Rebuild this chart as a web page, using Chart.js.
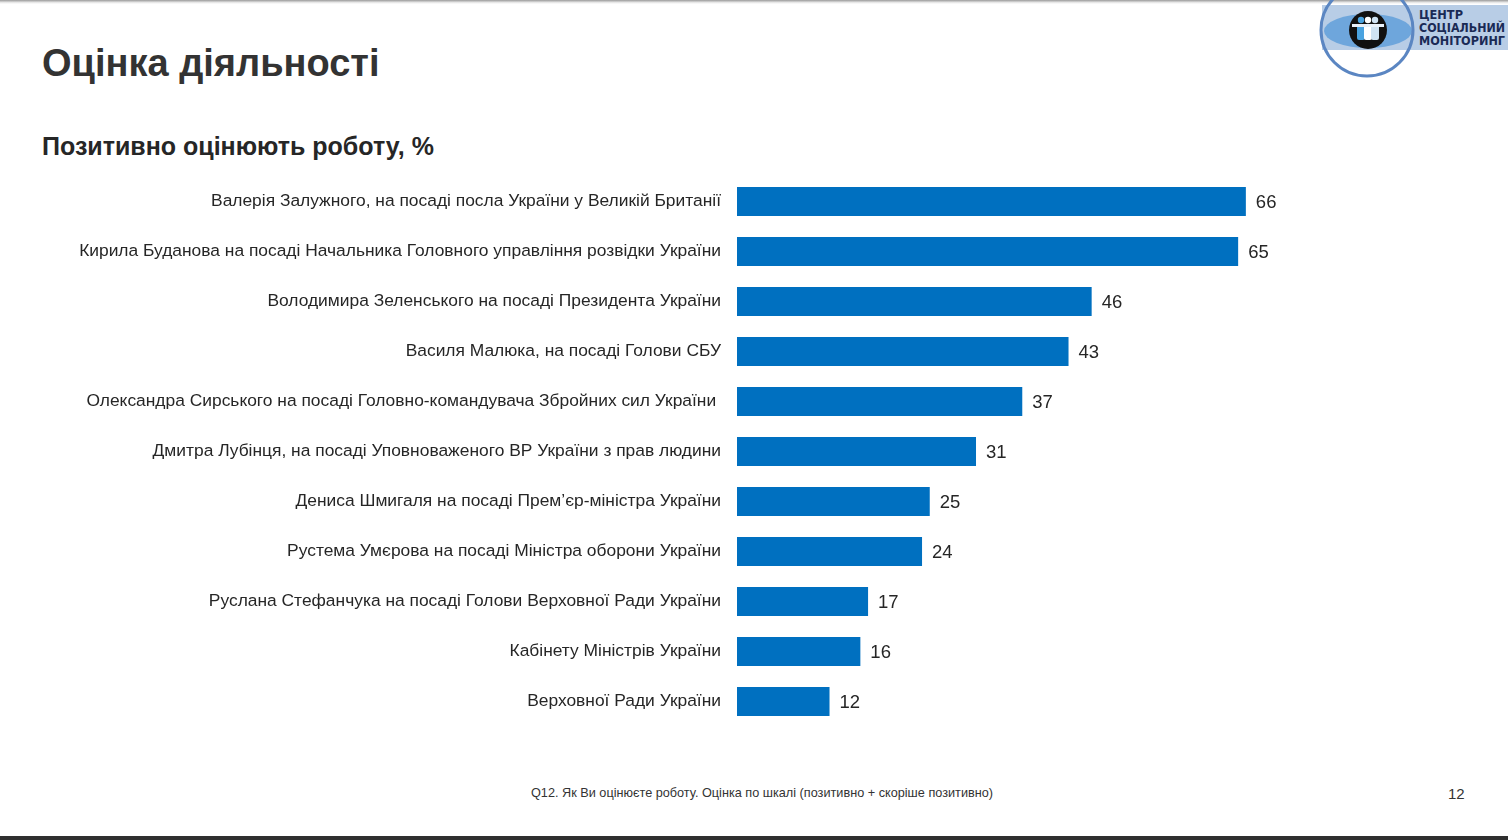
<!DOCTYPE html>
<html lang="uk">
<head>
<meta charset="utf-8">
<title>Оцінка діяльності</title>
<script src="https://cdn.jsdelivr.net/npm/chart.js@4.4.0/dist/chart.umd.min.js"></script>
<style>
	html, body {
		margin: 0;
		padding: 0;
		width: 1508px;
		height: 840px;
		overflow: hidden;
		background: #fff;
		font-family: "Liberation Sans", Arial, sans-serif;
	}
	.topline {
		position: absolute; left: 0; top: 0; width: 1508px; height: 4px;
		background: linear-gradient(#9a9a9a, #e6e6e6 60%, #fff);
	}
	.bottomline {
		position: absolute; left: 0; top: 836px; width: 1508px; height: 4px;
		background: #2f2f2f;
	}
	h1 {
		position: absolute; left: 42px; top: 42px; margin: 0;
		font-size: 38px; font-weight: bold; color: #333;
	}
	h2 {
		position: absolute; left: 42px; top: 132px; margin: 0;
		font-size: 25px; font-weight: bold; color: #262626;
	}
	/* chart box is taller than the bar area: Chart.js adds label padding top and bottom */
	.chartbox {
		position: absolute; left: 0; top: 150px; width: 1508px; height: 603px;
	}
	.note {
		position: absolute; left: 0; width: 1524px; top: 786px; text-align: center;
		font-size: 12.7px; color: #333;
	}
	.page {
		position: absolute; left: 1448px; top: 785px; font-size: 15px; color: #333;
	}
	.logo { position: absolute; left: 1300px; top: 0; }
</style>
</head>
<body>
<div class="topline"></div>
<h1>Оцінка діяльності</h1>
<h2>Позитивно оцінюють роботу, %</h2>

<svg class="logo" width="208" height="90" viewBox="0 0 208 90">
	<rect x="22" y="5" width="186" height="45" fill="#b8cde6"/>
	<ellipse cx="68" cy="31" rx="44" ry="17" fill="#6ea6dc"/>
	<circle cx="67" cy="30" r="46" fill="none" stroke="#5b86c2" stroke-width="3"/>
	<circle cx="68" cy="30" r="19" fill="#111"/>
	<g fill="#4aa3e0">
		<circle cx="61" cy="20" r="3.2"/>
		<rect x="57" y="24" width="8" height="16" rx="2"/>
	</g>
	<g fill="#ffffff">
		<circle cx="68" cy="20" r="3.2"/>
		<rect x="64" y="24" width="8" height="16" rx="2"/>
	</g>
	<g fill="#cfe3f3">
		<circle cx="75" cy="20" r="3.2"/>
		<rect x="71" y="24" width="8" height="16" rx="2"/>
	</g>
	<rect x="52" y="24" width="32" height="3" fill="#e8f1fa"/>
	<g font-family="'DejaVu Sans', sans-serif" font-weight="bold" font-size="11.5" fill="#1a2a55">
		<text x="119" y="19" textLength="44" lengthAdjust="spacingAndGlyphs">ЦЕНТР</text>
		<text x="119" y="32" textLength="86" lengthAdjust="spacingAndGlyphs">СОЦІАЛЬНИЙ</text>
		<text x="119" y="45" textLength="86" lengthAdjust="spacingAndGlyphs">МОНІТОРИНГ</text>
	</g>
</svg>

<div class="chartbox"><canvas id="ratingChart"></canvas></div>

<div class="note">Q12. Як Ви оцінюєте роботу. Оцінка по шкалі (позитивно + скоріше позитивно)</div>
<div class="page">12</div>
<div class="bottomline"></div>

<script>
// categories (top to bottom) and values, %
const officials = [
	"Валерія Залужного, на посаді посла України у Великій Британії",
	"Кирила Буданова на посаді Начальника Головного управління розвідки України",
	"Володимира Зеленського на посаді Президента України",
	"Василя Малюка, на посаді Голови СБУ",
	"Олександра Сирського на посаді Головно-командувача Збройних сил України ",
	"Дмитра Лубінця, на посаді Уповноваженого ВР України з прав людини",
	"Дениса Шмигаля на посаді Прем’єр-міністра України",
	"Рустема Умєрова на посаді Міністра оборони України",
	"Руслана Стефанчука на посаді Голови Верховної Ради України",
	"Кабінету Міністрів України",
	"Верховної Ради України",
];
const positiveShare = [66, 65, 46, 43, 37, 31, 25, 24, 17, 16, 12];

/**
 * Draw value labels at the end of each bar
 */
const valueLabels = {
	id: "valueLabels",
	afterDatasetsDraw(chart) {
		const ctx = chart.ctx;
		const meta = chart.getDatasetMeta(0);
		ctx.save();
		ctx.font = "18.5px 'Liberation Sans', Arial, sans-serif";
		ctx.fillStyle = "#262626";
		ctx.textAlign = "left";
		ctx.textBaseline = "middle";
		meta.data.forEach((bar, i) => {
			ctx.fillText(String(positiveShare[i]), bar.x + 10, bar.y + 1);
		});
		ctx.restore();
	},
};

function drawRatingChart() {
	const canvas = document.getElementById("ratingChart");
	const config = {
		type: "bar",
		data: {
			labels: officials,
			datasets: [
				{
					data: positiveShare,
					backgroundColor: "#0070C0",
					borderWidth: 0,
					barPercentage: 0.58,
					categoryPercentage: 1,
				},
			],
		},
		options: {
			indexAxis: "y",
			responsive: true,
			maintainAspectRatio: false,
			animation: false,
			layout: { padding: 0 },
			plugins: {
				legend: { display: false },
				tooltip: { enabled: false },
			},
			scales: {
				x: {
					display: false,
					min: 0,
					max: 100,
				},
				y: {
					grid: { display: false, drawTicks: false },
					border: { display: false },
					ticks: {
						padding: 16,
						color: "#262626",
						font: { size: 17.4, family: "'Liberation Sans', Arial, sans-serif" },
					},
					afterFit(scale) {
						scale.width = 737;
					},
				},
			},
		},
		plugins: [valueLabels],
	};

	if (window.ratingChartObj) window.ratingChartObj.destroy();
	window.ratingChartObj = new Chart(canvas, config);
}

drawRatingChart();
</script>
</body>
</html>
